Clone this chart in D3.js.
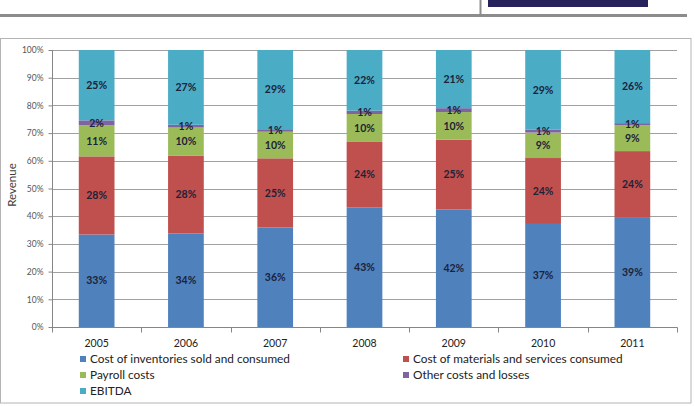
<!DOCTYPE html>
<html>
<head>
<meta charset="utf-8">
<script src="https://cdn.jsdelivr.net/npm/d3@7"></script>
<style>
  html, body { margin: 0; padding: 0; background: #fff; }
  svg { display: block; }
  text { font-family: Lato, "Noto Sans", sans-serif; }
</style>
</head>
<body>
<svg id="chart" width="695" height="406"></svg>
<script>
// ---- data ----
const years = ["2005", "2006", "2007", "2008", "2009", "2010", "2011"];
const seriesNames = [
  "Cost of inventories sold and consumed",
  "Cost of materials and services consumed",
  "Payroll costs",
  "Other costs and losses",
  "EBITDA"
];
const inventories = [33.4, 33.8, 35.9, 43.1, 42.4, 37.2, 39.4];
const materials   = [28.2, 28.1, 25.0, 23.7, 25.2, 23.8, 24.1];
const payroll     = [11.2, 10.1,  9.6, 10.1, 10.0,  9.2,  9.3];
const otherCosts  = [ 1.8,  1.0,  0.9,  1.2,  1.4,  1.0,  0.8];
const ebitda      = [25.4, 27.0, 28.6, 21.9, 21.0, 28.8, 26.4];
const yTicks = [0, 10, 20, 30, 40, 50, 60, 70, 80, 90, 100];
const colors = ["#4f81bd", "#c0504d", "#9bbb59", "#8064a2", "#4bacc6"];

const seriesValues = [inventories, materials, payroll, otherCosts, ebitda];
const rows = years.map((y, i) => {
  const r = { year: y };
  seriesNames.forEach((s, k) => r[s] = seriesValues[k][i]);
  return r;
});

const svg = d3.select("#chart");

// ---- page decorations (top) ----
svg.append("rect").attr("x", 488).attr("y", 0).attr("width", 160).attr("height", 7).attr("fill", "#27225c");
svg.append("line").attr("x1", 0).attr("x2", 687).attr("y1", 15.5).attr("y2", 15.5)
  .attr("stroke", "#8c8c8c").attr("stroke-width", 3);
svg.append("line").attr("x1", 480.5).attr("x2", 480.5).attr("y1", 0).attr("y2", 16)
  .attr("stroke", "#8c8c8c").attr("stroke-width", 2);

// chart frame
svg.append("rect").attr("x", 0.5).attr("y", 38.5).attr("width", 690.5).attr("height", 364.5)
  .attr("fill", "none").attr("stroke", "#b4b4b4").attr("stroke-width", 1);

// ---- scales ----
const x = d3.scaleBand().domain(years).range([52, 677]).paddingInner(0.6).paddingOuter(0.3);
const y = d3.scaleLinear().domain([0, 100]).range([327, 50]);

// gridlines
svg.append("g").selectAll("line").data(yTicks.filter(t => t > 0)).join("line")
  .attr("x1", 52).attr("x2", 677)
  .attr("y1", d => Math.round(y(d)) + 0.5).attr("y2", d => Math.round(y(d)) + 0.5)
  .attr("stroke", "#a0a0a0").attr("stroke-width", 1);

// stacked bars
const stack = d3.stack().keys(seriesNames);
const stacked = stack(rows);

const gBars = svg.append("g");
stacked.forEach((layer, k) => {
  gBars.append("g").attr("fill", colors[k]).selectAll("rect").data(layer).join("rect")
    .attr("x", d => x(d.data.year))
    .attr("width", x.bandwidth())
    .attr("y", d => y(d[1]))
    .attr("height", d => y(d[0]) - y(d[1]));
});

// data labels
const gLab = svg.append("g");
stacked.forEach((layer, k) => {
  gLab.selectAll(null).data(layer).join("text")
    .attr("x", d => x(d.data.year) + x.bandwidth() / 2)
    .attr("y", d => (y(d[0]) + y(d[1])) / 2)
    .attr("dy", "0.35em")
    .attr("text-anchor", "middle")
    .attr("font-size", "10.5px")
    .attr("font-weight", "bold")
    .attr("fill", "#1c2238")
    .text(d => Math.round(d.data[seriesNames[k]]) + "%");
});

// y axis
const yAxis = d3.axisLeft(y).tickValues(yTicks).tickFormat(d => d + "%").tickSize(4).tickPadding(5);
const gy = svg.append("g").attr("transform", "translate(52.5,0)").call(yAxis);
gy.select(".domain").attr("stroke", "#868686").attr("d", "M0," + y(100) + "V" + y(0));
gy.selectAll(".tick line").attr("stroke", "#868686");
gy.selectAll(".tick text").attr("font-size", "8.5px").attr("fill", "#555").attr("font-family", "Lato, sans-serif");

// x axis
const gx = svg.append("g").attr("transform", "translate(0,327.5)");
gx.append("line").attr("x1", 52).attr("x2", 677.5).attr("y1", 0).attr("y2", 0).attr("stroke", "#868686");
const boundaries = d3.range(years.length + 1).map(i => 52 + i * x.step());
gx.selectAll("line.tk").data(boundaries).join("line").attr("class", "tk")
  .attr("x1", d => Math.round(d) + 0.5).attr("x2", d => Math.round(d) + 0.5)
  .attr("y1", 0).attr("y2", 5).attr("stroke", "#868686");
gx.selectAll("text").data(years).join("text")
  .attr("x", d => x(d) + x.bandwidth() / 2)
  .attr("y", 16)
  .attr("dy", "0.35em")
  .attr("text-anchor", "middle")
  .attr("font-size", "10.5px")
  .attr("fill", "#222")
  .text(d => d);

// y title
svg.append("text")
  .attr("transform", "translate(12,185) rotate(-90)")
  .attr("text-anchor", "middle")
  .attr("dy", "0.35em")
  .attr("font-size", "11.5px")
  .attr("fill", "#404040")
  .text("Revenue");

// legend
const legendPos = [
  { x: 80, y: 359 }, { x: 403, y: 359 },
  { x: 80, y: 375 }, { x: 403, y: 375 },
  { x: 80, y: 391 }
];
const gLeg = svg.append("g");
seriesNames.forEach((s, k) => {
  const p = legendPos[k];
  gLeg.append("rect").attr("x", p.x).attr("y", p.y - 3).attr("width", 6).attr("height", 6).attr("fill", colors[k]);
  gLeg.append("text").attr("x", p.x + 10).attr("y", p.y).attr("dy", "0.35em")
    .attr("font-size", "11.8px").attr("fill", "#222").text(s);
});
</script>
</body>
</html>
